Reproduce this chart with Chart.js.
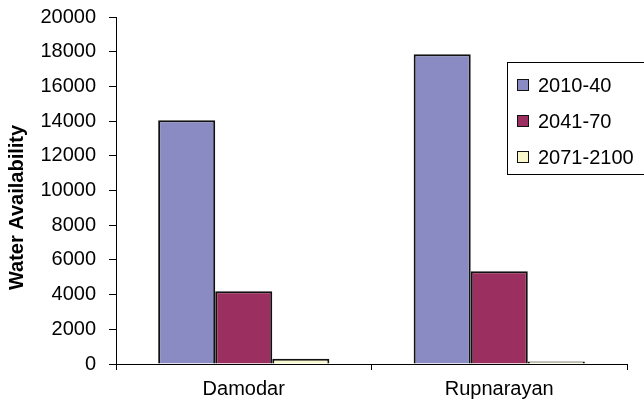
<!DOCTYPE html>
<html>
<head>
<meta charset="utf-8">
<script src="https://cdn.jsdelivr.net/npm/chart.js@4"></script>
<style>
  html, body { margin: 0; padding: 0; background: #fff; }
  #wrap { width: 644px; height: 401px; position: relative; }
</style>
</head>
<body>
<div id="wrap"><canvas id="c" width="644" height="401"></canvas></div>
<script>
// Basins on the x axis
const basins = ['Damodar', 'Rupnarayan'];
// Time periods (one bar series each)
const periods = ['2010-40', '2041-70', '2071-2100'];
// Water availability per period, ordered as basins
const avail2010_40 = [14050, 17850];
const avail2041_70 = [4200, 5350];
const avail2071_2100 = [300, 150];
// Y axis ticks
const yTicks = [0, 2000, 4000, 6000, 8000, 10000, 12000, 14000, 16000, 18000, 20000];
const yTitle = 'Water Availability';

const fills = ['#8b8bc3', '#9b2f5f', '#f8f8cc'];
const seriesValues = [avail2010_40, avail2041_70, avail2071_2100];

const FONT = '"Liberation Sans", Arial, Helvetica, sans-serif';

// Boxed legend at the upper right plus the rotated y-axis title
const decorations = {
  id: 'decorations',
  afterDraw(chart) {
    const ctx = chart.ctx;
    const area = chart.chartArea;
    ctx.save();
    // axis title
    ctx.fillStyle = '#000';
    ctx.font = 'bold 20px ' + FONT;
    ctx.textAlign = 'center';
    ctx.textBaseline = 'middle';
    ctx.translate(17, (area.top + area.bottom) / 2 + 17);
    ctx.rotate(-Math.PI / 2);
    ctx.fillText(yTitle, 0, 0);
    ctx.restore();

    // legend box
    ctx.save();
    const bx = 507.5, by = 62.5, bw = 150, bh = 112;
    ctx.fillStyle = '#fff';
    ctx.fillRect(bx, by, bw, bh);
    ctx.strokeStyle = '#000';
    ctx.lineWidth = 1;
    ctx.strokeRect(bx, by, bw, bh);
    ctx.font = '20px ' + FONT;
    ctx.textAlign = 'left';
    ctx.textBaseline = 'middle';
    chart.data.datasets.forEach((ds, i) => {
      const cy = 85 + i * 36;
      ctx.fillStyle = ds.backgroundColor;
      ctx.fillRect(517.5, cy - 5.5, 11, 11);
      ctx.strokeStyle = '#111';
      ctx.strokeRect(517.5, cy - 5.5, 11, 11);
      ctx.fillStyle = '#000';
      ctx.fillText(ds.label, 538, cy + 1);
    });
    ctx.restore();
  }
};

new Chart(document.getElementById('c'), {
  type: 'bar',
  data: {
    labels: basins,
    datasets: periods.map((p, i) => ({
      label: p,
      data: seriesValues[i],
      backgroundColor: fills[i],
      borderColor: '#111',
      borderWidth: 2,
      borderSkipped: 'bottom',
      barPercentage: 1,
      categoryPercentage: 0.67
    }))
  },
  options: {
    responsive: false,
    animation: false,
    devicePixelRatio: 1,
    layout: { padding: { top: 17, right: 17, bottom: 0, left: 0 } },
    plugins: {
      legend: { display: false },
      tooltip: { enabled: false }
    },
    scales: {
      x: {
        offset: true,
        grid: {
          offset: true,
          drawOnChartArea: false,
          drawTicks: true,
          tickLength: 6,
          color: '#000',
          lineWidth: 1
        },
        border: { display: true, color: '#000', width: 1 },
        ticks: {
          color: '#000',
          padding: 7,
          font: { family: FONT, size: 20 }
        },
        afterFit(scale) {
          scale.height = 37;
          scale.paddingLeft = 0;
          scale.paddingRight = 0;
        }
      },
      y: {
        min: 0,
        max: 20000,
        afterBuildTicks(scale) { scale.ticks = yTicks.map(v => ({ value: v })); },
        grid: {
          drawOnChartArea: false,
          drawTicks: true,
          tickLength: 7,
          color: '#000',
          lineWidth: 1
        },
        border: { display: true, color: '#000', width: 1 },
        ticks: {
          color: '#000',
          padding: 13,
          font: { family: FONT, size: 20 },
          callback: v => String(v)
        },
        afterFit(scale) {
          scale.width = 116;
          scale.paddingTop = 0;
          scale.paddingBottom = 0;
        }
      }
    }
  },
  plugins: [decorations]
});
</script>
</body>
</html>
